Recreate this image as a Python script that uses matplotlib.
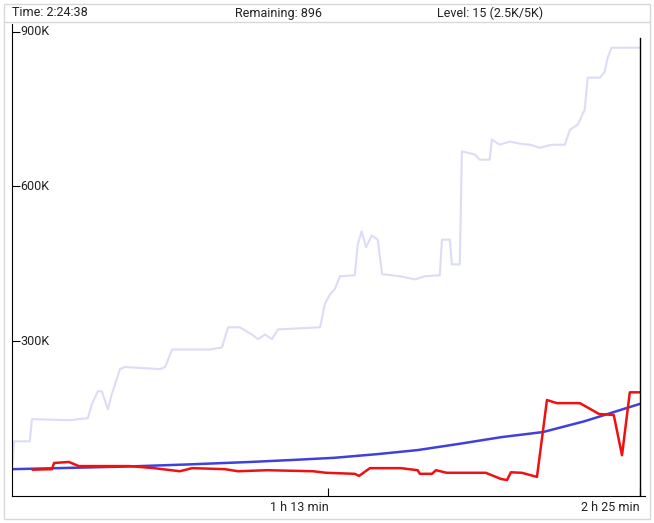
import matplotlib
matplotlib.use("Agg")
import matplotlib.pyplot as plt
from matplotlib.patches import Rectangle
from matplotlib.lines import Line2D

plt.rcParams['font.family'] = ['Roboto', 'DejaVu Sans']

lav_t = [0,0.5,4.1,4.6,13.4,17.5,18.4,19.8,20.7,22.1,23.0,24.9,26.0,34.1,35.3,36.9,45.6,48.4,49.8,52.5,55.3,56.7,58.3,59.9,61.3,71.0,72.1,73.3,74.4,75.6,79.0,79.7,80.6,81.6,82.9,84.3,85.3,89.4,92.9,95.2,98.6,99.1,100.9,101.4,103.2,103.7,106.7,107.8,110.1,110.6,112.4,114.7,117.1,119.4,121.7,124.4,127.4,128.6,130.4,132.0,132.7,135.5,136.6,137.3,138.2,144.7]
lav_v = [52,106,106,149,147,151,178,203,203,168,197,246,250,246,250,284,284,288,327,327,313,304,313,304,323,327,372,391,401,426,428,488,513,482,505,497,430,426,420,426,428,497,497,449,449,668,662,652,652,691,681,687,683,681,675,681,681,710,720,749,811,811,822,850,869,869]

red_t = [4.8,9.2,9.7,13.1,15.4,20.3,27.0,32.7,38.7,41.5,49.1,52.1,58.8,69.4,72.4,79.0,80.0,82.5,89.6,93.5,94.0,96.8,97.7,100.2,109.2,112.7,114.1,115.0,117.5,121.0,123.3,125.6,130.9,135.3,138.7,140.6,142.4,144.5]
red_v = [51,52,64,66,58,58,58,54,48,54,52,48,50,48,45,43,39,54,54,50,43,43,50,45,45,33,31,46,45,37,186,180,180,159,157,79,201,201]

blue_t = [0,26,40,55,65,74.2,84,93.5,103,112.7,122.4,132,144.5]
blue_v = [52,57,61,66,70,74,81,89,101,114,124,145,178]

yticks = [300, 600, 900]
ylabels = ["300K", "600K", "900K"]
xticks = [72.9, 144.7]
xlabels = ["1 h 13 min", "2 h 25 min"]
header = ["Time: 2:24:38", "Remaining: 896", "Level: 15 (2.5K/5K)"]

W, H = 654, 523
fig = plt.figure(figsize=(W/100, H/100), dpi=100)
fig.patches.append(Rectangle((4/W, 4/H), 646/W, 515/H, transform=fig.transFigure,
                             fill=False, edgecolor='#d8d8d8', lw=1))
fig.lines.append(Line2D([4/W, 650/W], [1-22/H, 1-22/H], transform=fig.transFigure, color='#d8d8d8', lw=1))
for txt, x in zip(header, [12, 235, 437]):
    fig.text(x/W, 1-13/H, txt, fontsize=9, va='center', ha='left', color='#222222')

ax = fig.add_axes([12/W, 1-496/H, 633/W, 472/H])
ax.set_xlim(0, 145.9)
ax.set_ylim(0, 915)
ax.plot(lav_t, lav_v, color='#dcdcf7', lw=1.5)
ax.plot(blue_t, blue_v, color='#4040dd', lw=1.8)
ax.plot(red_t, red_v, color='#ee1111', lw=1.8)
ax.axvline(144.7, ymax=(915-880)/915*0+0.97, color='black', lw=1)
for s in ['top', 'right']:
    ax.spines[s].set_visible(False)
for s in ['left', 'bottom']:
    ax.spines[s].set_color('black')
ax.set_yticks(yticks)
ax.set_yticklabels([])
ax.tick_params(axis='y', direction='in', length=6, color='black')
for v, l in zip(yticks, ylabels):
    ax.text(2.0, v, l, fontsize=9, va='center', ha='left', color='#222222')
ax.set_xticks(xticks)
ax.set_xticklabels([])
ax.tick_params(axis='x', direction='in', length=6, color='black')
for v, l in zip(xticks, xlabels):
    ax.text(v, -10, l, fontsize=9, va='top', ha='right', color='#222222')
fig.savefig("out.png", dpi=100)
